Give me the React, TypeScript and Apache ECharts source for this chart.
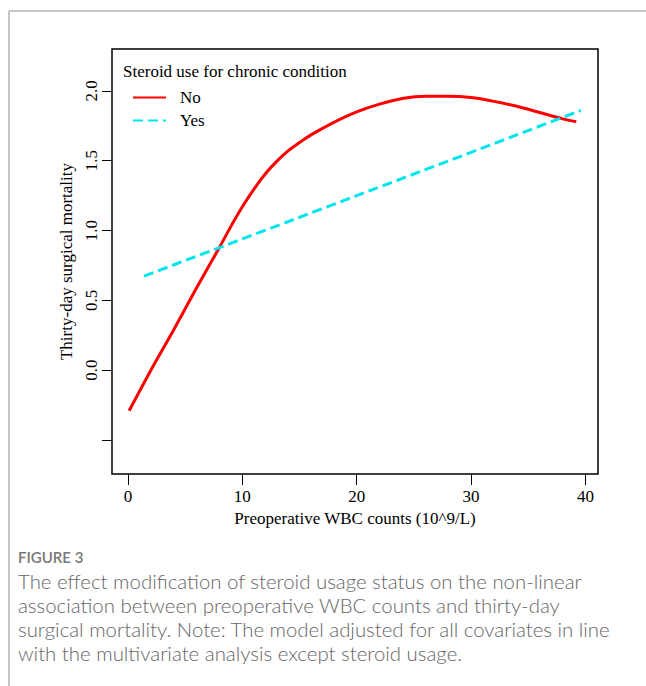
import React, { useEffect, useRef } from "react";
import * as echarts from "echarts";

// WBC counts (10^9/L) for the "No" curve
const wbcNo = [0.1, 2, 4, 6, 8, 9, 10, 11, 12, 13, 14, 15, 16, 18, 20, 22, 24, 26, 28, 30, 32, 34, 36, 38, 39.2];
// Thirty-day surgical mortality, steroid use = No
const mortNo = [-0.29, 0.0, 0.29, 0.59, 0.88, 1.03, 1.17, 1.295, 1.405, 1.495, 1.57, 1.63, 1.685, 1.775, 1.85, 1.905, 1.945, 1.962, 1.962, 1.952, 1.925, 1.89, 1.845, 1.8, 1.78];
// WBC counts for the "Yes" line
const wbcYes = [1.4, 10, 20, 30, 39.6];
// Thirty-day surgical mortality, steroid use = Yes
const mortYes = [0.674, 0.94, 1.25, 1.56, 1.86];

const xTicks = [0, 10, 20, 30, 40];
const yTicks = [-0.5, 0, 0.5, 1, 1.5, 2];
const yLabels = [0, 0.5, 1, 1.5, 2];

const legendTitle = "Steroid use for chronic condition";
const seriesNames = ["No", "Yes"];
const xTitle = "Preoperative WBC counts (10^9/L)";
const yTitle = "Thirty-day surgical mortality";
const figureLabel = "FIGURE 3";
const captionLines = [
  "The effect modification of steroid usage status on the non-linear",
  "association between preoperative WBC counts and thirty-day",
  "surgical mortality. Note: The model adjusted for all covariates in line",
  "with the multivariate analysis except steroid usage.",
];

const SERIF = '"Liberation Serif", "Times New Roman", serif';
const SANS = 'Lato, "Open Sans", sans-serif';

export default function App() {
  const ref = useRef<HTMLDivElement>(null);
  useEffect(() => {
    if (!ref.current) return;
    const chart = echarts.init(ref.current, undefined, { renderer: "svg" });
    const pair = (xs: number[], ys: number[]) => xs.map((x, i) => [x, ys[i]]);
    chart.setOption({
      animation: false,
      backgroundColor: "#ffffff",
      grid: {
        left: 112,
        top: 49,
        right: 48,
        bottom: 212,
        show: true,
        borderColor: "#000",
        borderWidth: 1.5,
        backgroundColor: "transparent",
      },
      xAxis: {
        type: "value",
        min: -1.4,
        max: 41.1,
        name: xTitle,
        nameLocation: "middle",
        nameGap: 35,
        nameTextStyle: { fontFamily: SERIF, fontSize: 17, color: "#000" },
        axisLine: { show: false, onZero: false },
        axisTick: { show: true, length: 11, customValues: xTicks, lineStyle: { color: "#000", width: 1 } },
        axisLabel: { customValues: xTicks, margin: 14, fontFamily: SERIF, fontSize: 17, color: "#000" },
        splitLine: { show: false },
      },
      yAxis: {
        type: "value",
        min: -0.743,
        max: 2.3,
        name: yTitle,
        nameLocation: "middle",
        nameGap: 34,
        nameTextStyle: { fontFamily: SERIF, fontSize: 17, color: "#000" },
        axisLine: { show: false, onZero: false },
        axisTick: { show: true, length: 10, customValues: yTicks, lineStyle: { color: "#000", width: 1 } },
        axisLabel: {
          customValues: yLabels,
          rotate: 90,
          margin: 12,
          fontFamily: SERIF,
          fontSize: 17,
          color: "#000",
          formatter: (v: number) => v.toFixed(1),
        },
        splitLine: { show: false },
      },
      legend: {
        orient: "vertical",
        left: 132,
        top: 89,
        itemWidth: 33,
        itemHeight: 14,
        itemGap: 6,
        padding: 0,
        data: seriesNames,
        itemStyle: { opacity: 0 },
        textStyle: { fontFamily: SERIF, fontSize: 17, color: "#000", padding: [0, 0, 0, 9] },
      },
      series: [
        {
          name: seriesNames[0],
          type: "line",
          data: pair(wbcNo, mortNo),
          smooth: 0.3,
          symbol: "none",
          lineStyle: { color: "#ff0000", width: 3 },
          itemStyle: { color: "#ff0000" },
        },
        {
          name: seriesNames[1],
          type: "line",
          data: pair(wbcYes, mortYes),
          symbol: "none",
          lineStyle: { color: "#00e5ee", width: 3, type: [10, 5] },
          itemStyle: { color: "#00e5ee" },
        },
      ],
      graphic: [
        {
          type: "line",
          shape: { x1: 9, y1: 11, x2: 646, y2: 11 },
          style: { stroke: "#b3b3b3", lineWidth: 1.5 },
        },
        {
          type: "line",
          shape: { x1: 9, y1: 11, x2: 9, y2: 686 },
          style: { stroke: "#b3b3b3", lineWidth: 1.5 },
        },
        {
          type: "text",
          x: 123,
          y: 71,
          style: { text: legendTitle, font: `17px ${SERIF}`, fill: "#000", textVerticalAlign: "middle" },
        },
        {
          type: "text",
          x: 18,
          y: 557,
          style: { text: figureLabel, font: `600 15px ${SANS}`, fill: "#777777", textVerticalAlign: "middle" },
        },
        ...captionLines.map((t, i) => ({
          type: "text",
          x: 18,
          y: 581 + i * 24,
          style: { text: t, font: `300 20.4px ${SANS}`, fill: "#666666", textVerticalAlign: "middle" },
        })),
      ],
    });
    return () => chart.dispose();
  }, []);
  return (
    <div
      ref={ref}
      style={{ position: "fixed", left: 0, top: 0, width: 646, height: 686 }}
    />
  );
}
